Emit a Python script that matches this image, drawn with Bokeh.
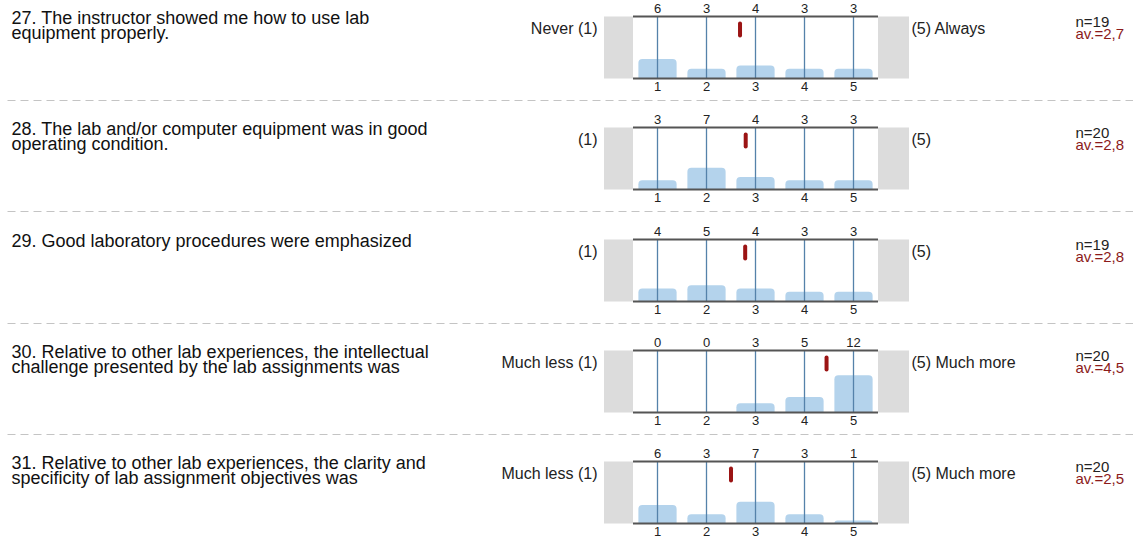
from bokeh.plotting import figure
from bokeh.layouts import column
from bokeh.models import Range1d
from bokeh.core.properties import value
from bokeh.embed import file_html
from bokeh.resources import INLINE

# ---------------- data ----------------
questions = [
    "27. The instructor showed me how to use lab\nequipment properly.",
    "28. The lab and/or computer equipment was in good\noperating condition.",
    "29. Good laboratory procedures were emphasized",
    "30. Relative to other lab experiences, the intellectual\nchallenge presented by the lab assignments was",
    "31. Relative to other lab experiences, the clarity and\nspecificity of lab assignment objectives was",
]
left_labels = ["Never (1)", "(1)", "(1)", "Much less (1)", "Much less (1)"]
right_labels = ["(5) Always", "(5)", "(5)", "(5) Much more", "(5) Much more"]
ratings = [1, 2, 3, 4, 5]
counts_q27 = [6, 3, 4, 3, 3]
counts_q28 = [3, 7, 4, 3, 3]
counts_q29 = [4, 5, 4, 3, 3]
counts_q30 = [0, 0, 3, 5, 12]
counts_q31 = [6, 3, 7, 3, 1]
all_counts = [counts_q27, counts_q28, counts_q29, counts_q30, counts_q31]
n_values = [19, 20, 19, 20, 20]
av_values = [2.7, 2.8, 2.8, 4.5, 2.5]

# ---------------- style / layout ----------------
FONT = value("Liberation Sans")
W = 1133
PX_PER_UNIT = 49.0          # pixels per rating step
X1_PX = 657.0               # canvas px of rating 1
X0 = 1 - X1_PX / PX_PER_UNIT
X1 = X0 + W / PX_PER_UNIT
heights = [111, 112, 111, 111, 107]
T = 16      # px from figure top to top line
H = 62      # chart height in px


def px2x(px):
    return X0 + px / PX_PER_UNIT


figs = []
for i in range(5):
    h = heights[i]
    n = n_values[i]
    cnt = all_counts[i]
    unit = n / H  # data units per px in y
    y_start = -(h - T - H) * unit
    y_end = n + T * unit
    p = figure(width=W, height=h, x_range=Range1d(X0, X1), y_range=Range1d(y_start, y_end),
               toolbar_location=None, output_backend="svg",
               x_axis_location=None, y_axis_location=None,
               min_border=0, min_border_left=0, min_border_right=0,
               min_border_top=0, min_border_bottom=0,
               outline_line_color=None, background_fill_color="white",
               border_fill_color="white")
    p.grid.grid_line_color = None

    # grey side boxes
    p.quad(left=[0.5 - 29 / PX_PER_UNIT, 5.5], right=[0.5, 5.5 + 31 / PX_PER_UNIT],
           bottom=0, top=n, fill_color="#dcdcdc", line_color=None)

    # bars
    p.vbar(x=ratings, top=cnt, bottom=0, width=0.78, fill_color="#b4d3ec",
           line_color=None, border_radius=(4, 4, 0, 0))

    # vertical rating lines
    p.segment(x0=ratings, y0=[0] * 5, x1=ratings, y1=[n] * 5,
              line_color="#5582aa", line_width=1.3)

    # top and bottom lines
    p.segment(x0=[0.5, 0.5], y0=[0, n], x1=[5.5, 5.5], y1=[0, n],
              line_color="#555555", line_width=2)

    # mean marker
    mean = sum(r * c for r, c in zip(ratings, cnt)) / n
    p.segment(x0=[mean], y0=[n - 7 * unit], x1=[mean], y1=[n - 19 * unit],
              line_color="#9b1414", line_width=4, line_cap="round")

    # count labels above, rating labels below
    p.text(x=ratings, y=[n] * 5, text=[str(c) for c in cnt], y_offset=-8,
           text_align="center", text_baseline="middle", text_font=FONT,
           text_font_size="13px", text_color="#222222")
    p.text(x=ratings, y=[0] * 5, text=[str(r) for r in ratings], y_offset=8,
           text_align="center", text_baseline="middle", text_font=FONT,
           text_font_size="13px", text_color="#222222")

    # question
    p.text(x=[px2x(11)], y=[n], text=[questions[i]], y_offset=-9,
           text_align="left", text_baseline="top", text_font=FONT,
           text_font_size="18px", text_color="#111111", text_line_height=0.75)

    # scale labels
    p.text(x=[px2x(597)], y=[n], text=[left_labels[i]], y_offset=12,
           text_align="right", text_baseline="middle", text_font=FONT,
           text_font_size="16px", text_color="#222222")
    p.text(x=[px2x(911)], y=[n], text=[right_labels[i]], y_offset=12,
           text_align="left", text_baseline="middle", text_font=FONT,
           text_font_size="16px", text_color="#222222")

    # n and average
    p.text(x=[px2x(1075)], y=[n], text=[f"n={n}"], y_offset=5,
           text_align="left", text_baseline="middle", text_font=FONT,
           text_font_size="15px", text_color="#222222")
    p.text(x=[px2x(1075)], y=[n], text=["av.=" + f"{av_values[i]:.1f}".replace(".", ",")],
           y_offset=17, text_align="left", text_baseline="middle", text_font=FONT,
           text_font_size="15px", text_color="#8b1a1a")

    # dashed separator
    if i < 4:
        sep_y = -22 * unit
        p.segment(x0=[px2x(7)], y0=[sep_y], x1=[X1], y1=[sep_y], line_color="#c4c4c4",
                  line_width=1.2, line_dash="8 5")
    figs.append(p)

layout = column(*figs, spacing=0)
open("out.html", "w").write(file_html(layout, INLINE))
